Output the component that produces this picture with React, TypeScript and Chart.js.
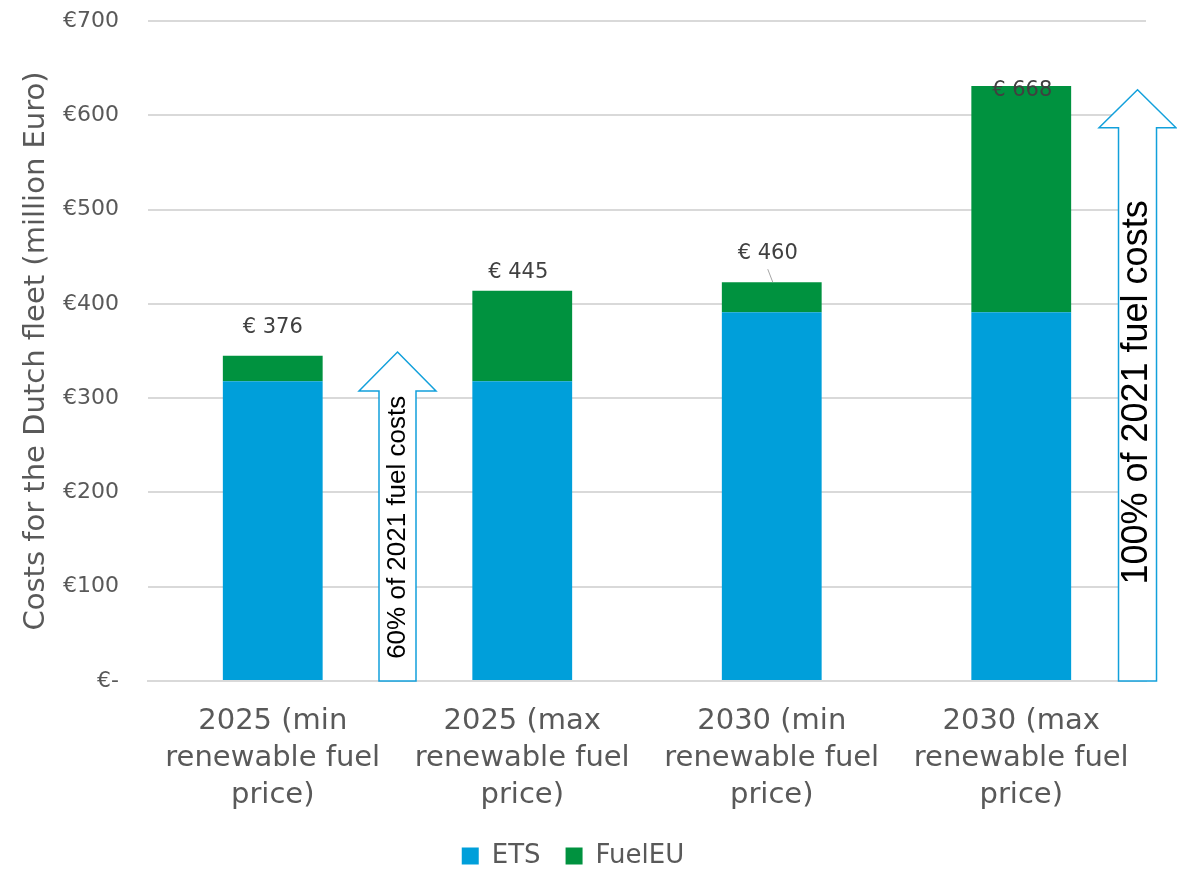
import React, { useEffect, useRef } from "react";
import { Chart, registerables } from "chart.js";

Chart.register(...registerables);

// Scenario categories (multi-line axis labels)
const categories = [
  ["2025 (min", "renewable fuel", "price)"],
  ["2025 (max", "renewable fuel", "price)"],
  ["2030 (min", "renewable fuel", "price)"],
  ["2030 (max", "renewable fuel", "price)"],
];

// Costs for the Dutch fleet, million Euro
const etsValues = [318, 318, 391, 391];
const fuelEuValues = [27, 96, 32, 240];

// Total figures printed above the bars
const totalLabels = [376, 445, 460, 668];

// Y axis range
const yMin = 0;
const yMax = 700;
const yStep = 100;

// Reference arrows: share of 2021 fuel costs
const arrowTexts = ["60% of 2021 fuel costs", "100% of 2021 fuel costs"];
const arrowTops = [349, 627];

const FONT = "'DejaVu Sans', sans-serif";
const TEXT_GREY = "#595959";
const ETS_BLUE = "#009FDA";
const FUELEU_GREEN = "#00923F";
const ARROW_BLUE = "#12A0DB";

// Drawing styles for the arrows (category units for position, px for sizes)
const arrowStyles = [
  { at: 0.5, headWidth: 77, shaftWidth: 37, headHeight: 39, fontSize: 26, textAt: 163 },
  { at: 3.466, headWidth: 77, shaftWidth: 38, headHeight: 38, fontSize: 36, textAt: 306 },
];

// Total label placement relative to the top of each bar (px)
const labelStyles = [
  { dx: 0, dy: -28, leader: false },
  { dx: -4, dy: -18, leader: false },
  { dx: -4, dy: -29, leader: true },
  { dx: 1, dy: 4, leader: false },
];

const overlayPlugin = {
  id: "overlay",
  afterDatasetsDraw(chart: any) {
    const { ctx } = chart;
    const x = chart.scales.x;
    const y = chart.scales.y;
    const step = x.getPixelForValue(1) - x.getPixelForValue(0);
    const base = y.getPixelForValue(0);

    arrowStyles.forEach((a, i) => {
      const cx = x.getPixelForValue(0) + a.at * step;
      const top = y.getPixelForValue(arrowTops[i]);
      const hw = a.headWidth / 2;
      const sw = a.shaftWidth / 2;
      const neck = top + a.headHeight;
      ctx.save();
      ctx.beginPath();
      ctx.moveTo(cx, top);
      ctx.lineTo(cx + hw, neck);
      ctx.lineTo(cx + sw, neck);
      ctx.lineTo(cx + sw, base);
      ctx.lineTo(cx - sw, base);
      ctx.lineTo(cx - sw, neck);
      ctx.lineTo(cx - hw, neck);
      ctx.closePath();
      ctx.fillStyle = "#ffffff";
      ctx.fill();
      ctx.strokeStyle = ARROW_BLUE;
      ctx.lineWidth = 1.5;
      ctx.lineJoin = "miter";
      ctx.stroke();

      ctx.translate(cx, y.getPixelForValue(a.textAt));
      ctx.rotate(-Math.PI / 2);
      ctx.font = `${a.fontSize}px 'Liberation Sans', Arial, sans-serif`;
      ctx.fillStyle = "#000000";
      ctx.textAlign = "center";
      ctx.textBaseline = "middle";
      ctx.fillText(arrowTexts[i], 0, 0);
      ctx.restore();
    });

    const topMeta = chart.getDatasetMeta(1);
    totalLabels.forEach((v, i) => {
      const bar = topMeta.data[i];
      const s = labelStyles[i];
      const lx = bar.x + s.dx;
      const ly = bar.y + s.dy;
      ctx.save();
      if (s.leader) {
        ctx.beginPath();
        ctx.moveTo(lx, ly + 16);
        ctx.lineTo(bar.x + 1, bar.y);
        ctx.strokeStyle = "#A6A6A6";
        ctx.lineWidth = 1;
        ctx.stroke();
      }
      ctx.font = `21px ${FONT}`;
      ctx.fillStyle = "#404040";
      ctx.textAlign = "center";
      ctx.textBaseline = "middle";
      ctx.fillText(`€ ${v}`, lx, ly);
      ctx.restore();
    });
  },
};

export default function App() {
  const canvasRef = useRef<HTMLCanvasElement | null>(null);

  useEffect(() => {
    if (!canvasRef.current) return;
    const chart = new Chart(canvasRef.current, {
      type: "bar",
      data: {
        labels: categories as any,
        datasets: [
          {
            label: "ETS",
            data: etsValues,
            backgroundColor: ETS_BLUE,
            barPercentage: 0.4,
            categoryPercentage: 1,
          },
          {
            label: "FuelEU",
            data: fuelEuValues,
            backgroundColor: FUELEU_GREEN,
            barPercentage: 0.4,
            categoryPercentage: 1,
          },
        ],
      },
      options: {
        animation: false,
        responsive: true,
        maintainAspectRatio: false,
        events: [],
        layout: { padding: { left: 0, right: 31, top: 21, bottom: -10 } },
        plugins: {
          tooltip: { enabled: false },
          legend: {
            position: "bottom",
            labels: {
              boxWidth: 17,
              boxHeight: 17,
              padding: 25,
              color: TEXT_GREY,
              font: { family: FONT, size: 26 },
            },
          },
        },
        scales: {
          x: {
            stacked: true,
            grid: { display: false, drawTicks: false },
            border: { display: true, color: "#D9D9D9", width: 2 },
            ticks: {
              color: TEXT_GREY,
              font: { family: FONT, size: 29, lineHeight: 1.28 },
              padding: 22,
              maxRotation: 0,
              autoSkip: false,
            },
            afterFit(scale: any) {
              scale.height = 137;
            },
          },
          y: {
            stacked: true,
            min: yMin,
            max: yMax,
            grid: { color: "#D9D9D9", lineWidth: 2, drawTicks: false },
            border: { display: false },
            ticks: {
              stepSize: yStep,
              color: TEXT_GREY,
              padding: 29,
              font: { family: FONT, size: 22 },
              callback: (v: any) => (Number(v) === 0 ? "€-" : `€${v}`),
            },
            title: {
              display: true,
              text: "Costs for the Dutch fleet (million Euro)",
              color: TEXT_GREY,
              font: { family: FONT, size: 29 },
              padding: { top: 19, bottom: 0 },
            },
            afterFit(scale: any) {
              scale.width = 148;
              scale.paddingTop = 0;
              scale.paddingBottom = 0;
            },
          },
        },
      },
      plugins: [overlayPlugin],
    });
    return () => chart.destroy();
  }, []);

  return (
    <div style={{ position: "fixed", left: 0, top: 0, width: 1177, height: 869, background: "#fff" }}>
      <canvas ref={canvasRef} />
    </div>
  );
}
